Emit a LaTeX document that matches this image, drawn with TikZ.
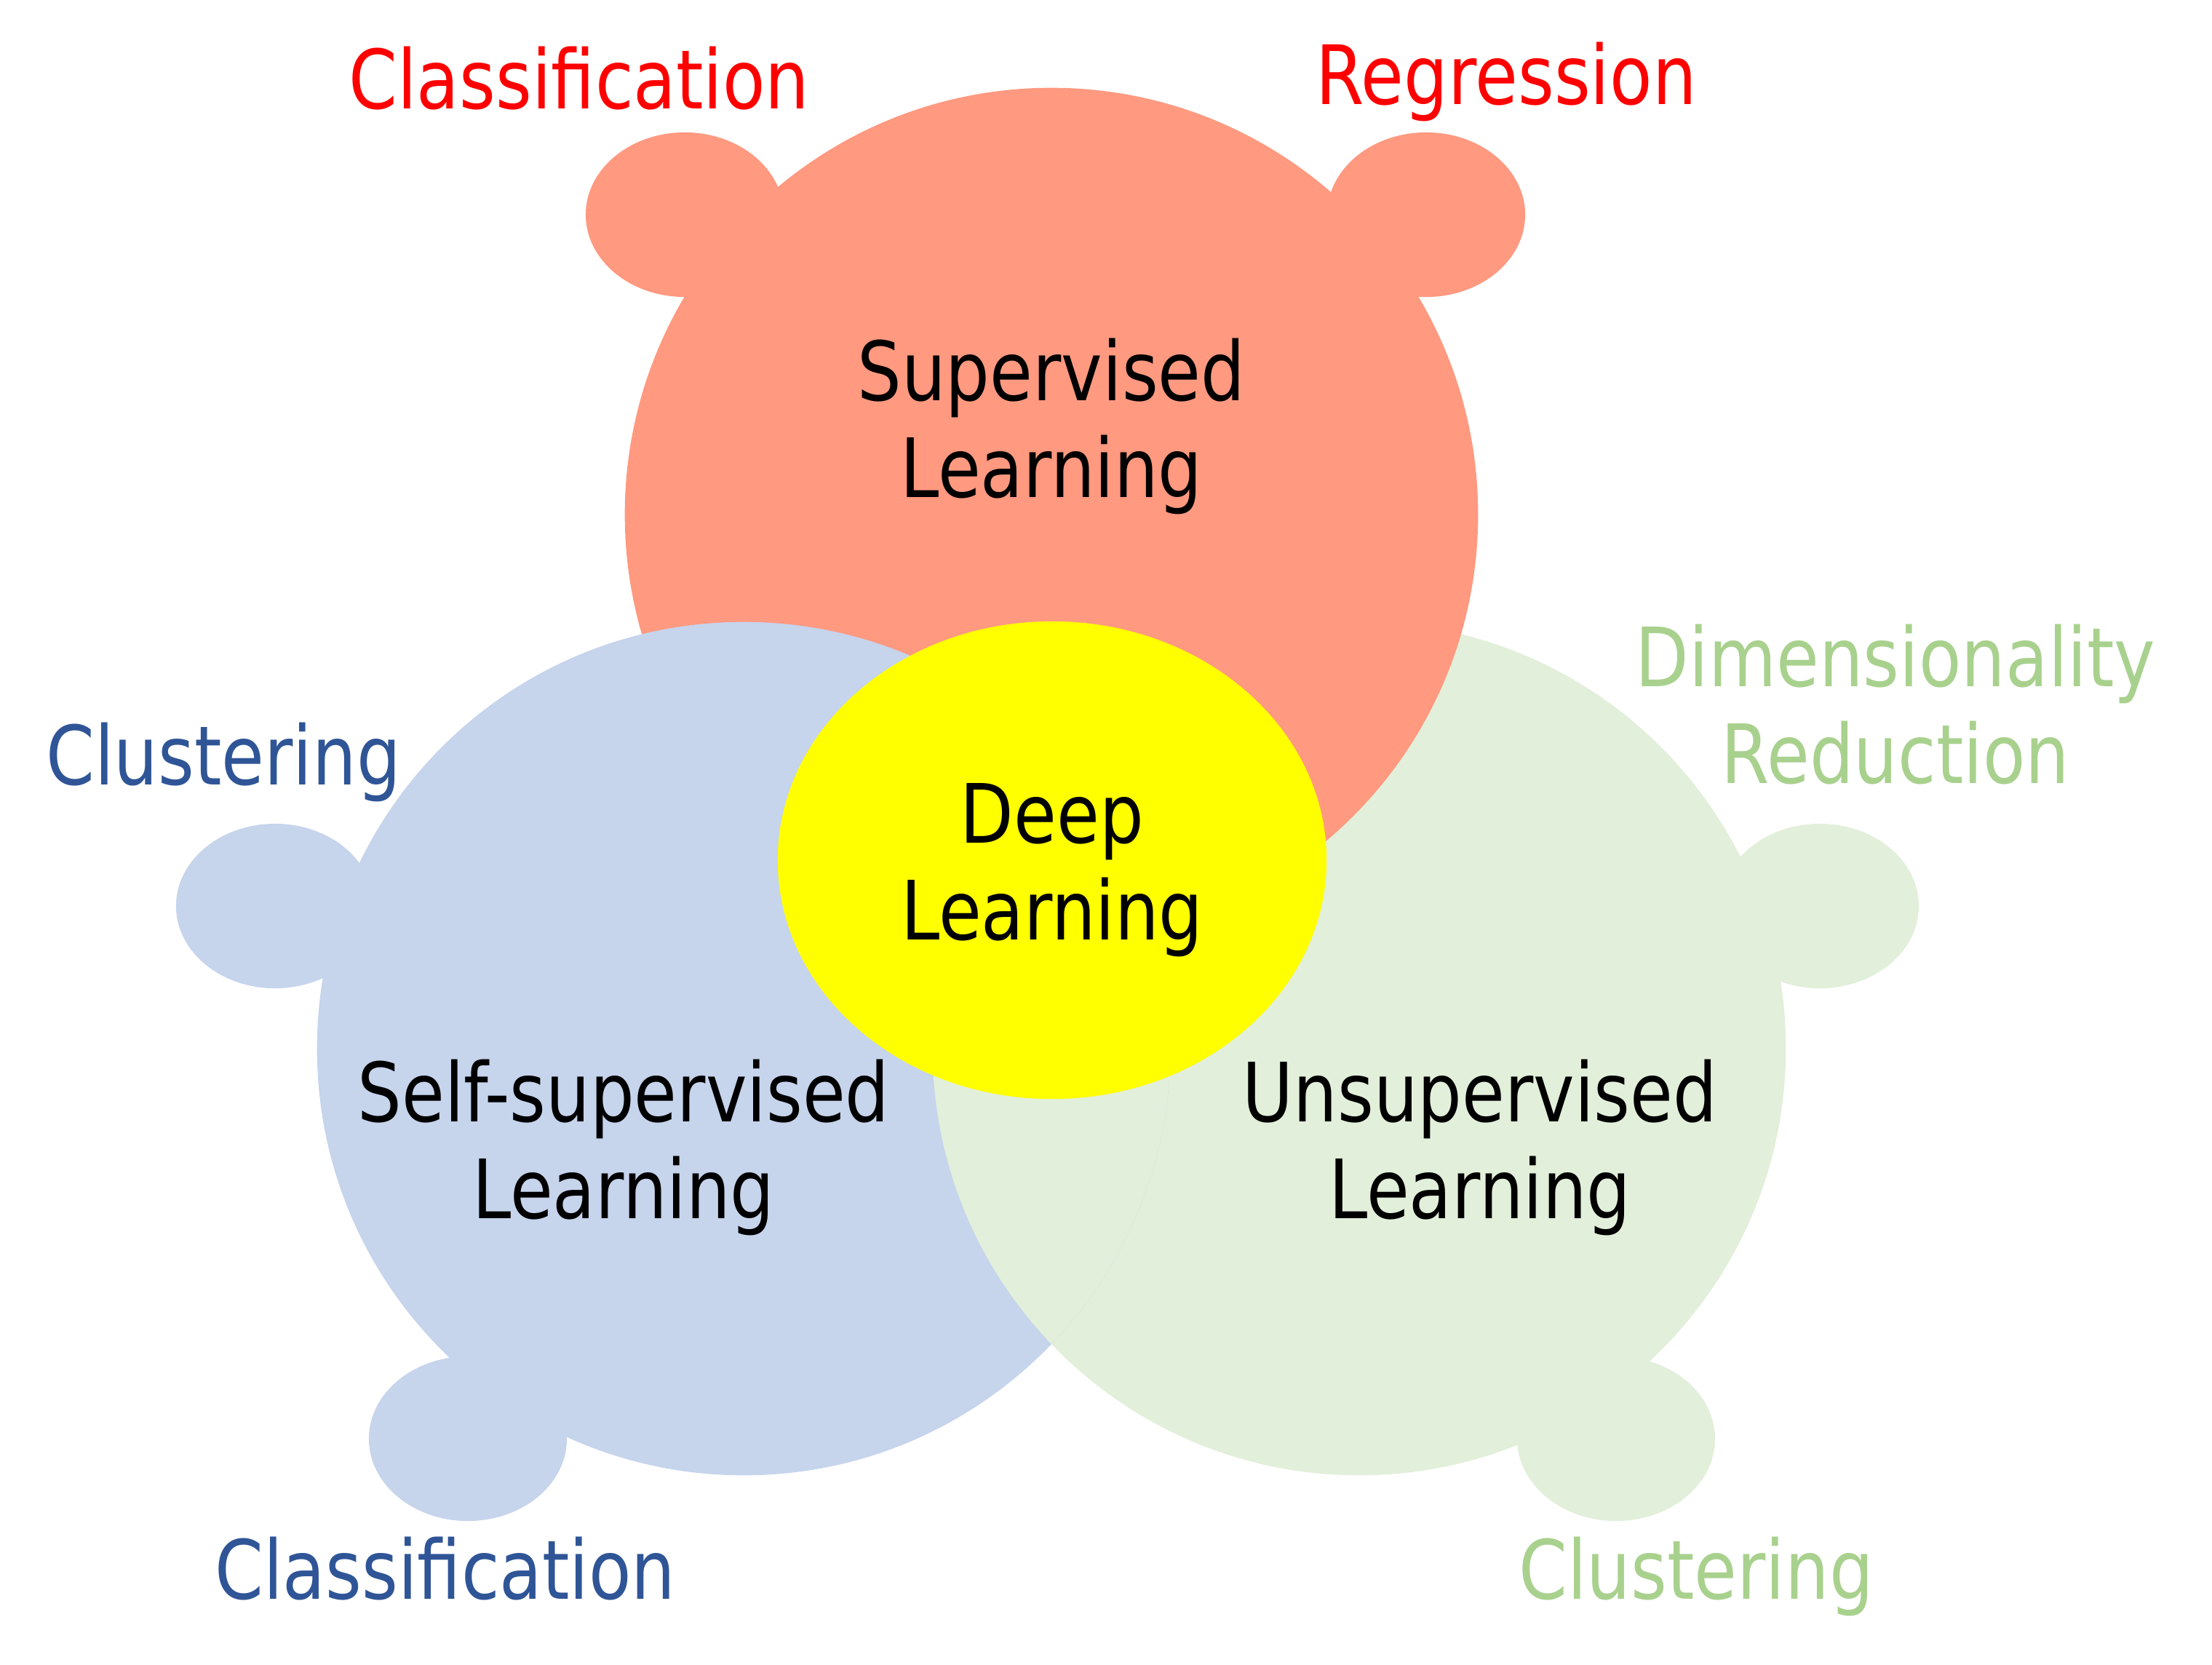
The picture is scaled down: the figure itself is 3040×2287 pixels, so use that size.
\documentclass[tikz,border=0pt]{standalone}
\usepackage{fontspec}
\setmainfont{DejaVu Sans}[FakeStretch=0.85]
\definecolor{supfill}{HTML}{FF9980}
\definecolor{selffill}{HTML}{C6D4EC}
\definecolor{unsfill}{HTML}{E2EFDA}
\definecolor{deepfill}{HTML}{FFFF00}
\definecolor{redtxt}{HTML}{FF0000}
\definecolor{bluetxt}{HTML}{2F5597}
\definecolor{greentxt}{HTML}{A9D18E}
\begin{document}
\begin{tikzpicture}[x=0.01cm,y=-0.01cm,
  lbl/.style={font=\fontsize{32}{37.56}\selectfont, inner sep=0pt, align=center, anchor=base},
  big/.style={radius=5.86cm},
  ear/.style={x radius=1.36cm, y radius=1.13cm}]
\useasboundingbox (0,0) rectangle (3040,2287);
% Unsupervised (green)
\fill[unsfill] (1868,1441) circle[big] (2501,1245) ellipse[ear] (2221,1977) ellipse[ear];
% Supervised (red)
\fill[supfill] (1445,707) circle[big] (941,295) ellipse[ear] (1960,295) ellipse[ear];
% Self-supervised (blue)
\fill[selffill] (1022,1441) circle[big] (378,1245) ellipse[ear] (643,1977) ellipse[ear];
% green over blue in their overlap
\begin{scope}
  \clip (1022,1441) circle[big];
  \fill[unsfill] (1868,1441) circle[big];
\end{scope}
% Deep learning (yellow)
\fill[deepfill] (1446,1182) ellipse[x radius=3.77cm, y radius=3.28cm];
% texts (base anchor = baseline of the last line)
\node[lbl] (supt) at (1445,683) {Supervised\\Learning};
\node[lbl] (deept) at (1446,1291) {Deep\\Learning};
\node[lbl] (selft) at (857,1674) {Self-supervised\\Learning};
\node[lbl] (unst) at (2034,1674) {Unsupervised\\Learning};
\node[lbl, text=redtxt] (supa) at (796,149) {Classification};
\node[lbl, text=redtxt] (supb) at (2070,143) {Regression};
\node[lbl, text=bluetxt] (selfa) at (307,1078) {Clustering};
\node[lbl, text=bluetxt] (selfb) at (612,2197) {Classification};
\node[lbl, text=greentxt] (unsa) at (2605,1076) {Dimensionality\\Reduction};
\node[lbl, text=greentxt] (unsb) at (2331,2197) {Clustering};
\end{tikzpicture}
\end{document}
